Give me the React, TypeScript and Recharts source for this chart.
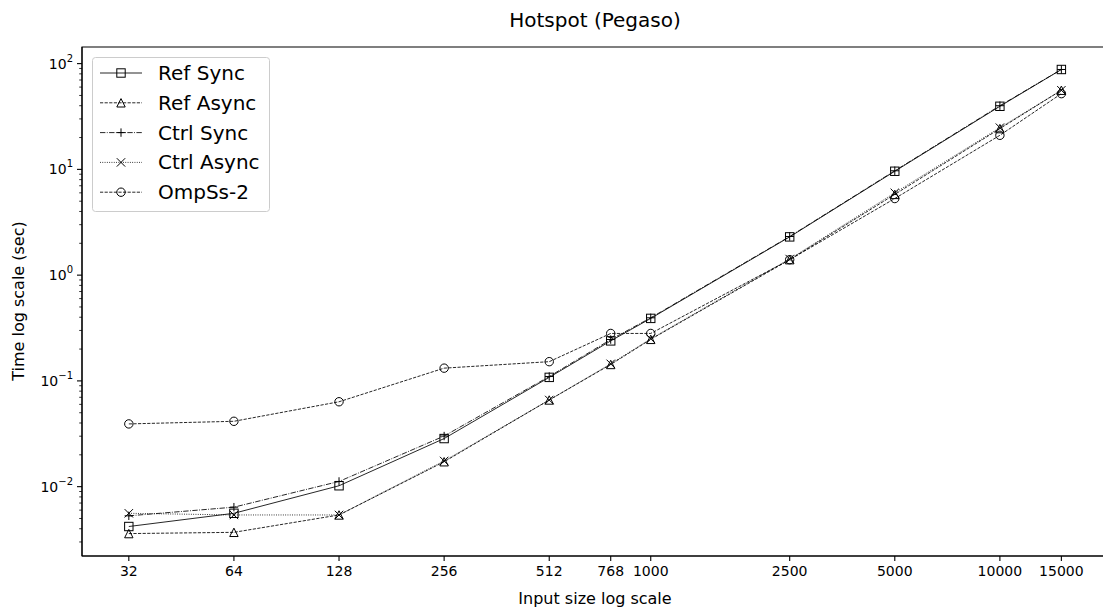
import React from "react";
import { LineChart, Line, XAxis, YAxis, ReferenceArea, Legend } from "recharts";

const FONT = "'DejaVu Sans', sans-serif";

// input sizes (x) and measured times in seconds (y)
const sizes = [32, 64, 128, 256, 512, 768, 1000, 2500, 5000, 10000, 15000];
const refSync = [0.0042, 0.0056, 0.0102, 0.0285, 0.108, 0.239, 0.39, 2.3, 9.6, 39.5, 88];
const refAsync = [0.0036, 0.0037, 0.0054, 0.0172, 0.066, 0.143, 0.247, 1.4, 5.8, 24.3, 56];
const ctrlSync = [0.0053, 0.0064, 0.0112, 0.0301, 0.11, 0.246, 0.395, 2.32, 9.7, 40, 88];
const ctrlAsync = [0.0056, 0.0054, 0.0054, 0.0175, 0.066, 0.145, 0.25, 1.42, 6.0, 24.8, 56];
const ompss = [0.0392, 0.0415, 0.0635, 0.132, 0.152, 0.281, 0.281, 1.4, 5.3, 21.0, 52];

const yMajor = [0.01, 0.1, 1, 10, 100];
const yExponents = ["\u22122", "\u22121", "0", "1", "2"];
const yMinor = [
  0.003, 0.004, 0.005, 0.006, 0.007, 0.008, 0.009,
  0.02, 0.03, 0.04, 0.05, 0.06, 0.07, 0.08, 0.09,
  0.2, 0.3, 0.4, 0.5, 0.6, 0.7, 0.8, 0.9,
  2, 3, 4, 5, 6, 7, 8, 9,
  20, 30, 40, 50, 60, 70, 80, 90,
];

// axis limits (matplotlib-style 5% margins in log space)
const X_DOMAIN: [number, number] = [23.5, 20400];
const Y_DOMAIN: [number, number] = [0.00221, 143.6];

type Shape = "square" | "triangle" | "plus" | "cross" | "circle";

const LW = 0.85;

const series: { key: string; name: string; values: number[]; dash?: string; marker: Shape }[] = [
  { key: "refSync", name: "Ref Sync", values: refSync, marker: "square" },
  { key: "refAsync", name: "Ref Async", values: refAsync, dash: "3.2 1.4", marker: "triangle" },
  { key: "ctrlSync", name: "Ctrl Sync", values: ctrlSync, dash: "5.4 1.4 0.9 1.4", marker: "plus" },
  { key: "ctrlAsync", name: "Ctrl Async", values: ctrlAsync, dash: "0.9 1.4", marker: "cross" },
  { key: "ompss", name: "OmpSs-2", values: ompss, dash: "3.2 1.4", marker: "circle" },
];

function Marker({ shape, cx, cy }: { shape: Shape; cx: number; cy: number }) {
  if (cx == null || cy == null) return null;
  const s = 4.2;
  const st = { fill: "none", stroke: "#000", strokeWidth: 1 };
  switch (shape) {
    case "square":
      return <rect x={cx - s} y={cy - s} width={2 * s} height={2 * s} {...st} />;
    case "triangle":
      return <polygon points={`${cx},${cy - s} ${cx - s},${cy + s} ${cx + s},${cy + s}`} {...st} />;
    case "plus":
      return <path d={`M${cx - s},${cy}H${cx + s}M${cx},${cy - s}V${cy + s}`} {...st} />;
    case "cross":
      return (
        <path d={`M${cx - s},${cy - s}L${cx + s},${cy + s}M${cx - s},${cy + s}L${cx + s},${cy - s}`} {...st} />
      );
    default:
      return <circle cx={cx} cy={cy} r={s} {...st} />;
  }
}

function YTick(props: any) {
  const { x, y, payload } = props;
  const v = payload?.value;
  const axisX = x + 9; // tickSize 5 + tickMargin 4
  const idx = yMajor.indexOf(v);
  const major = idx >= 0;
  return (
    <g>
      <line x1={axisX - (major ? 5 : 2.8)} x2={axisX} y1={y} y2={y} stroke="#000" strokeWidth={major ? 1.1 : 0.8} />
      {major && (
        <text x={x} y={y + 5} textAnchor="end" fontSize={14} fontFamily={FONT} fill="#000">
          10
          <tspan dy={-7} fontSize={10}>
            {yExponents[idx]}
          </tspan>
        </text>
      )}
    </g>
  );
}

function LegendBox() {
  const w = 178;
  const h = 155;
  return (
    <svg width={w} height={h} style={{ display: "block" }}>
      <rect x={0.5} y={0.5} width={w - 1} height={h - 1} rx={3} fill="rgba(255,255,255,0.8)" stroke="#cccccc" />
      {series.map((s, i) => {
        const cy = 16 + i * 29.8;
        return (
          <g key={s.key}>
            <line x1={8} x2={50} y1={cy} y2={cy} stroke="#000" strokeWidth={LW} strokeDasharray={s.dash} />
            <Marker shape={s.marker} cx={29} cy={cy} />
            <text x={66} y={cy + 7} fontSize={20} fontFamily={FONT} fill="#000">
              {s.name}
            </text>
          </g>
        );
      })}
    </svg>
  );
}

export default function App() {
  const data = sizes.map((n, i) => {
    const row: any = { n };
    series.forEach((s) => (row[s.key] = s.values[i]));
    return row;
  });

  return (
    <div
      style={{
        position: "fixed",
        left: 0,
        top: 0,
        width: 1103,
        height: 612,
        overflow: "hidden",
        background: "#fff",
        fontFamily: FONT,
        color: "#000",
      }}
    >
      <LineChart width={1112} height={612} data={data} margin={{ top: 47, right: 4, bottom: 0, left: 12 }}>
        <XAxis
          dataKey="n"
          type="number"
          scale="log"
          domain={X_DOMAIN}
          allowDataOverflow
          ticks={sizes}
          interval={0}
          height={56}
          tickSize={5}
          tickMargin={5}
          tick={{ fontSize: 14, fill: "#000", fontFamily: FONT }}
          tickLine={{ stroke: "#000", strokeWidth: 1.1 }}
          axisLine={{ stroke: "#000", strokeWidth: 1.1 }}
        />
        <YAxis
          type="number"
          scale="log"
          domain={Y_DOMAIN}
          allowDataOverflow
          ticks={[...yMajor, ...yMinor]}
          interval={0}
          width={70}
          tickSize={5}
          tickMargin={4}
          tickLine={false}
          tick={(p: any) => <YTick {...p} />}
          axisLine={{ stroke: "#000", strokeWidth: 1.1 }}
        />
        <ReferenceArea
          x1={X_DOMAIN[0]}
          x2={X_DOMAIN[1]}
          y1={Y_DOMAIN[0]}
          y2={Y_DOMAIN[1]}
          fill="none"
          stroke="#000"
          strokeWidth={1.1}
          ifOverflow="visible"
        />
        {series.map((s) => (
          <Line
            key={s.key}
            dataKey={s.key}
            name={s.name}
            type="linear"
            stroke="#000"
            strokeWidth={LW}
            strokeDasharray={s.dash}
            dot={(p: any) => <Marker key={`${s.key}-${p.index}`} shape={s.marker} cx={p.cx} cy={p.cy} />}
            activeDot={false}
            isAnimationActive={false}
          />
        ))}
        <Legend
          layout="vertical"
          align="center"
          verticalAlign="middle"
          wrapperStyle={{ left: 92, top: 57, width: 178, height: 155 }}
          content={() => <LegendBox />}
        />
      </LineChart>
      <div
        style={{
          position: "absolute",
          left: 395,
          top: 10,
          width: 400,
          textAlign: "center",
          fontSize: 20,
          lineHeight: "20px",
        }}
      >
        Hotspot (Pegaso)
      </div>
      <div
        style={{
          position: "absolute",
          left: 395,
          top: 591,
          width: 400,
          textAlign: "center",
          fontSize: 16,
          lineHeight: "16px",
        }}
      >
        Input size log scale
      </div>
      <div
        style={{
          position: "absolute",
          left: 19 - 120,
          top: 301 - 8,
          width: 240,
          textAlign: "center",
          fontSize: 16,
          lineHeight: "16px",
          transform: "rotate(-90deg)",
        }}
      >
        Time log scale (sec)
      </div>
    </div>
  );
}
